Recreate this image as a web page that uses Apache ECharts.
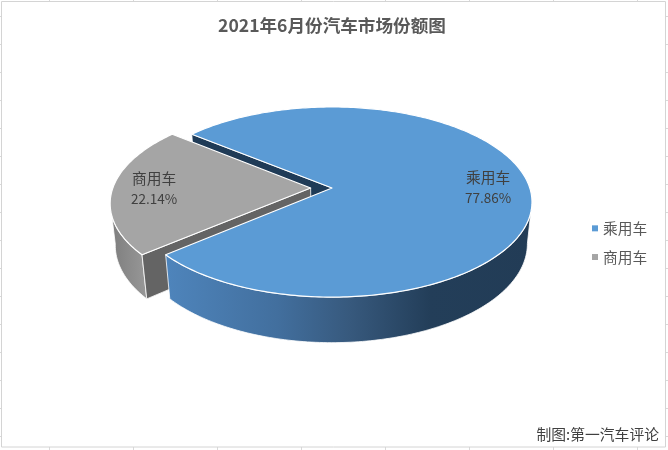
<!DOCTYPE html>
<html>
<head>
<meta charset="utf-8">
<style>html,body{margin:0;padding:0;background:#fff}#c{width:668px;height:450px}</style>
<script src="https://cdn.jsdelivr.net/npm/echarts@6/dist/echarts.min.js"></script>
</head>
<body>
<div id="c"></div>
<script>
const categories = ['乘用车', '商用车'];
const shares = [77.86, 22.14];
const chartTitle = '2021年6月份汽车市场份额图';
const creditText = '制图:第一汽车评论';

const FONT = '"Noto Sans CJK SC","Noto Sans",sans-serif';
const firstAngle = 309.2, explode = [0, 0.108];
const cam = {cx: 332, cy: 188, A: 197.8, B: 93, H: 42.4, p: 0.1475, q: 0.023};
const total = shares.reduce((a, b) => a + b, 0);
const rad = d => d * Math.PI / 180;

function project(X, Z, h) {
  const w = 1 - cam.p * Z + cam.q * h;
  return [cam.cx + cam.A * X / w, cam.cy + (cam.B * Z + cam.H * h) / w];
}
function rim(t, off, h, r) {
  r = r === undefined ? 1 : r;
  return project(off + r * Math.sin(rad(t)), -r * Math.cos(rad(t)), h);
}
const grad = (x, x2, stops) => new echarts.graphic.LinearGradient(x, 0, x2, 0,
  stops.map(s => ({offset: s[0], color: s[1]})), true);

const looks = [
  {top: '#5B9BD5', side: '#1F3B57', zTop: 20, zOuter: 19, zRadial: 1,
   outer: grad(168, 532, [[0, '#4E84BB'], [0.3, '#426F9E'], [0.5, '#37597D'], [0.72, '#233E59'], [1, '#223C56']])},
  {top: '#A5A5A5', side: '#646464', zTop: 12, zOuter: 10, zRadial: 11,
   outer: grad(111, 146, [[0, '#7E7E7E'], [1, '#979797']])}
];

function renderSlice(i, api) {
  const value = api.value(0);
  let start = firstAngle;
  for (let k = 0; k < i; k++) start += 360 * shares[k] / total;
  const end = start + 360 * value / total;
  const mid = (start + end) / 2;
  const off = explode[i] * Math.sin(rad(mid));
  const look = looks[i];
  const kids = [];
  const line = {stroke: '#fff', lineWidth: 1.2, lineJoin: 'round'};
  const poly = (points, fill, z2, lw) => kids.push({type: 'polygon', z2,
    shape: {points}, style: Object.assign({fill}, line, lw ? {lineWidth: lw} : {})});

  // top face
  const topPts = [project(off, 0, 0)];
  for (let t = start; t < end; t += 1) topPts.push(rim(t, off, 0));
  topPts.push(rim(end, off, 0));
  poly(topPts, look.top, look.zTop);

  // outer wall, between the two silhouette points of the rim
  const upper = [], lower = [];
  for (let t = start; t <= end; t += 1) {
    const m = ((t % 360) + 360) % 360;
    if (m >= 98 && m <= 262) {
      upper.push(rim(t, off, 0));
      lower.push(rim(t, off, 1));
    }
  }
  const endMod = ((end % 360) + 360) % 360;
  if (endMod >= 98 && endMod <= 262) { upper.push(rim(end, off, 0)); lower.push(rim(end, off, 1)); }
  const startMod = ((start % 360) + 360) % 360;
  if (startMod >= 98 && startMod <= 262) { upper.unshift(rim(start, off, 0)); lower.unshift(rim(start, off, 1)); }
  poly(upper.concat(lower.reverse()), look.outer, look.zOuter, 0.8);

  // cut face turned to the viewer
  const faces = [];
  if (Math.cos(rad(start - 90)) < 0) faces.push(start);
  if (Math.cos(rad(end + 90)) < 0) faces.push(end);
  faces.forEach(t => poly([project(off, 0, 0), rim(t, off, 0), rim(t, off, 1), project(off, 0, 1)],
    look.side, look.zRadial, 0.8));

  // label
  const at = rim(mid, off, 0, 0.79);
  [categories[i], value.toFixed(2) + '%'].forEach((text, n) => kids.push({
    type: 'text', z2: 30,
    style: {text, x: at[0], y: at[1] + (n ? 10.5 : -10), align: 'center', verticalAlign: 'middle',
      font: (n ? '13.5px ' : '14.7px ') + FONT, fill: '#404040'}
  }));
  return {type: 'group', children: kids};
}

// sheet grid visible round the chart frame
const frameLines = [];
const gridXs = [49, 133, 217, 301, 385, 469, 553, 637];
const gridYs = [16, 44, 72, 100, 128, 156, 184, 212, 240, 268, 296, 324, 352, 380, 408, 436];
const seg = (x1, y1, x2, y2) => ({type: 'line', silent: true, shape: {x1, y1, x2, y2},
  style: {stroke: '#D9D9D9', lineWidth: 1}});
gridXs.forEach(x => { frameLines.push(seg(x + .5, 0, x + .5, 2)); frameLines.push(seg(x + .5, 447, x + .5, 450)); });
gridYs.forEach(y => { frameLines.push(seg(0, y + .5, 2, y + .5)); frameLines.push(seg(665, y + .5, 668, y + .5)); });
frameLines.push({type: 'rect', silent: true, shape: {x: 1.5, y: 1.5, width: 664, height: 445.5},
  style: {fill: 'none', stroke: '#D4D4D4', lineWidth: 1}});
frameLines.push({type: 'text', silent: true, style: {text: creditText, x: 659, y: 434, align: 'right',
  verticalAlign: 'middle', font: '14.8px ' + FONT, fill: '#404040'}});

const chart = echarts.init(document.getElementById('c'), null, {renderer: 'canvas', width: 668, height: 450});
chart.setOption({
  animation: false,
  backgroundColor: '#fff',
  title: {text: chartTitle, left: 213, top: 12,
    textStyle: {fontFamily: FONT, fontSize: 17.6, fontWeight: 'bold', color: '#595959'}},
  legend: {orient: 'vertical', left: 587, top: 216, icon: 'rect', itemWidth: 6, itemHeight: 6, itemGap: 14,
    selectedMode: false, data: categories,
    textStyle: {fontFamily: FONT, fontSize: 14.7, color: '#595959', padding: [0, 0, 0, 0]}},
  graphic: frameLines,
  series: categories.map((name, i) => ({
    type: 'custom', name, coordinateSystem: 'none', silent: true,
    itemStyle: {color: looks[i].top},
    data: [[shares[i]]],
    renderItem: (params, api) => renderSlice(i, api)
  }))
});
</script>
</body>
</html>
